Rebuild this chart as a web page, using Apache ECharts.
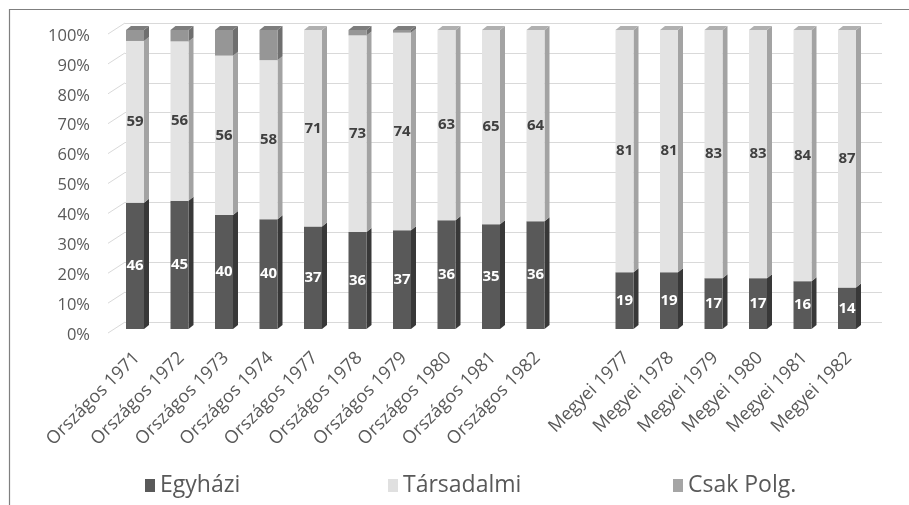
<!DOCTYPE html>
<html>
<head>
<meta charset="utf-8">
<script src="https://cdn.jsdelivr.net/npm/echarts@6/dist/echarts.min.js"></script>
<style>
html,body{margin:0;padding:0;background:#fff;}
#chart{width:909px;height:505px;}
</style>
</head>
<body>
<div id="chart"></div>
<script>
const categories = ['Országos 1971','Országos 1972','Országos 1973','Országos 1974','Országos 1977','Országos 1978','Országos 1979','Országos 1980','Országos 1981','Országos 1982','','Megyei 1977','Megyei 1978','Megyei 1979','Megyei 1980','Megyei 1981','Megyei 1982'];
const egyhazi    = [46,45,40,40,37,36,37,36,35,36,null,19,19,17,17,16,14];
const tarsadalmi = [59,56,56,58,71,73,74,63,65,64,null,81,81,83,83,84,87];
const csakPolg   = [4,4,9,11,0,2,1,0,0,0,null,0,0,0,0,0,0];
const yTicks = [0,10,20,30,40,50,60,70,80,90,100];
const seriesNames = ['Egyházi','Társadalmi','Csak Polg.'];

const FONT = "'Open Sans', sans-serif";
const styles = [
  {front:'#595959', side:'#383838', top:'#474747', label:'#ffffff', legend:'#595959'},
  {front:'#e3e3e3', side:'#a3a3a3', top:'#b0b0b0', label:'#404040', legend:'#e0e0e0'},
  {front:'#969696', side:'#6f6f6f', top:'#7d7d7d', label:'#404040', legend:'#a5a5a5'}
];
const raw = [egyhazi, tarsadalmi, csakPolg];

// build stacked percentage segments
const segData = [[],[],[]];
categories.forEach((c, i) => {
  if (egyhazi[i] == null) return;
  const total = egyhazi[i] + tarsadalmi[i] + csakPolg[i];
  let acc = 0;
  let topIdx = 0;
  raw.forEach((arr, s) => { if (arr[i] > 0) topIdx = s; });
  raw.forEach((arr, s) => {
    const v = arr[i];
    const start = acc / total * 100;
    acc += v;
    const end = acc / total * 100;
    if (v > 0) segData[s].push([i, start, end, v, s === topIdx ? 1 : 0]);
  });
});

const DX = 5, DY = 4, HALF = 9;
function makeRender(s) {
  const st = styles[s];
  return function (params, api) {
    const idx = api.value(0);
    const p0 = api.coord([idx, api.value(1)]);
    const p1 = api.coord([idx, api.value(2)]);
    const xl = p0[0] - HALF, xr = p0[0] + HALF;
    const y0 = p0[1], y1 = p1[1];
    const children = [
      {type:'polygon', shape:{points:[[xr,y1],[xr+DX,y1-DY],[xr+DX,y0-DY],[xr,y0]]}, style:{fill:st.side}},
      {type:'rect', shape:{x:xl, y:y1, width:xr-xl, height:y0-y1}, style:{fill:st.front}}
    ];
    if (api.value(4) === 1) {
      children.push({type:'polygon', shape:{points:[[xl,y1],[xr,y1],[xr+DX,y1-DY],[xl+DX,y1-DY]]}, style:{fill:st.top}});
    }
    if (s < 2) {
      children.push({type:'text', style:{text:String(api.value(3)), x:p0[0], y:(y0+y1)/2, align:'center', verticalAlign:'middle', fill:st.label, font:'bold 15px ' + FONT}});
    }
    return {type:'group', children};
  };
}

const chart = echarts.init(document.getElementById('chart'));
const option = {
  backgroundColor:'#ffffff',
  animation:false,
  grid:[
    {left:125, right:27, top:23, bottom:183},          // back wall
    {left:112.75, right:39.75, top:30, bottom:176},     // bars
    {left:100, right:40, top:36, bottom:170},           // y labels
    {left:114.75, right:37.75, top:30, bottom:176}      // x labels
  ],
  xAxis:[
    {gridIndex:0, type:'value', min:0, max:1, show:false},
    {gridIndex:1, type:'category', data:categories, show:false},
    {gridIndex:2, type:'value', min:0, max:1, show:false},
    {gridIndex:3, type:'category', data:categories, axisLine:{show:false}, axisTick:{show:false},
     axisLabel:{interval:0, rotate:45, margin:26, color:'#595959', fontSize:18, fontFamily:FONT}}
  ],
  yAxis:[
    {gridIndex:0, type:'value', min:0, max:100, interval:10, axisLabel:{show:false}, axisLine:{show:false}, axisTick:{show:false},
     splitLine:{lineStyle:{color:'#d9d9d9', width:1}}},
    {gridIndex:1, type:'value', min:0, max:100, interval:10, show:false, splitLine:{show:false}},
    {gridIndex:2, type:'value', min:0, max:100, interval:10, axisLine:{show:false}, axisTick:{show:false}, splitLine:{show:false},
     axisLabel:{formatter:'{value}%', color:'#595959', fontSize:16.5, fontFamily:FONT, margin:10}},
    {gridIndex:3, type:'value', min:0, max:100, interval:10, show:false, splitLine:{show:false}}
  ],
  legend: seriesNames.map((n, k) => ({
    data:[n], left:[140,383,668][k], top:469, icon:'rect', itemWidth:10, itemHeight:13,
    textStyle:{color:'#595959', fontSize:23, fontFamily:FONT}
  })),
  graphic:[
    {type:'polyline', shape:{points:[[9.5,505],[9.5,9.5],[909,9.5]]}, style:{stroke:'#7f7f7f', lineWidth:1.2, fill:null}}
  ],
  series:[
    {
      type:'custom', name:'floor', xAxisIndex:0, yAxisIndex:0, silent:true,
      data: yTicks.map(t => [0, t]),
      renderItem:function(params, api){
        const p = api.coord([0, api.value(1)]);
        return {type:'line', shape:{x1:p[0]-17, y1:p[1]+11, x2:p[0], y2:p[1]}, style:{stroke:'#d9d9d9', lineWidth:1}};
      }
    }
  ].concat(seriesNames.map((n, s) => ({
    type:'custom', name:n, xAxisIndex:1, yAxisIndex:1,
    itemStyle:{color:styles[s].legend},
    encode:{x:0, y:[1,2]},
    data:segData[s],
    renderItem:makeRender(s)
  })))
};
chart.setOption(option);
</script>
</body>
</html>
